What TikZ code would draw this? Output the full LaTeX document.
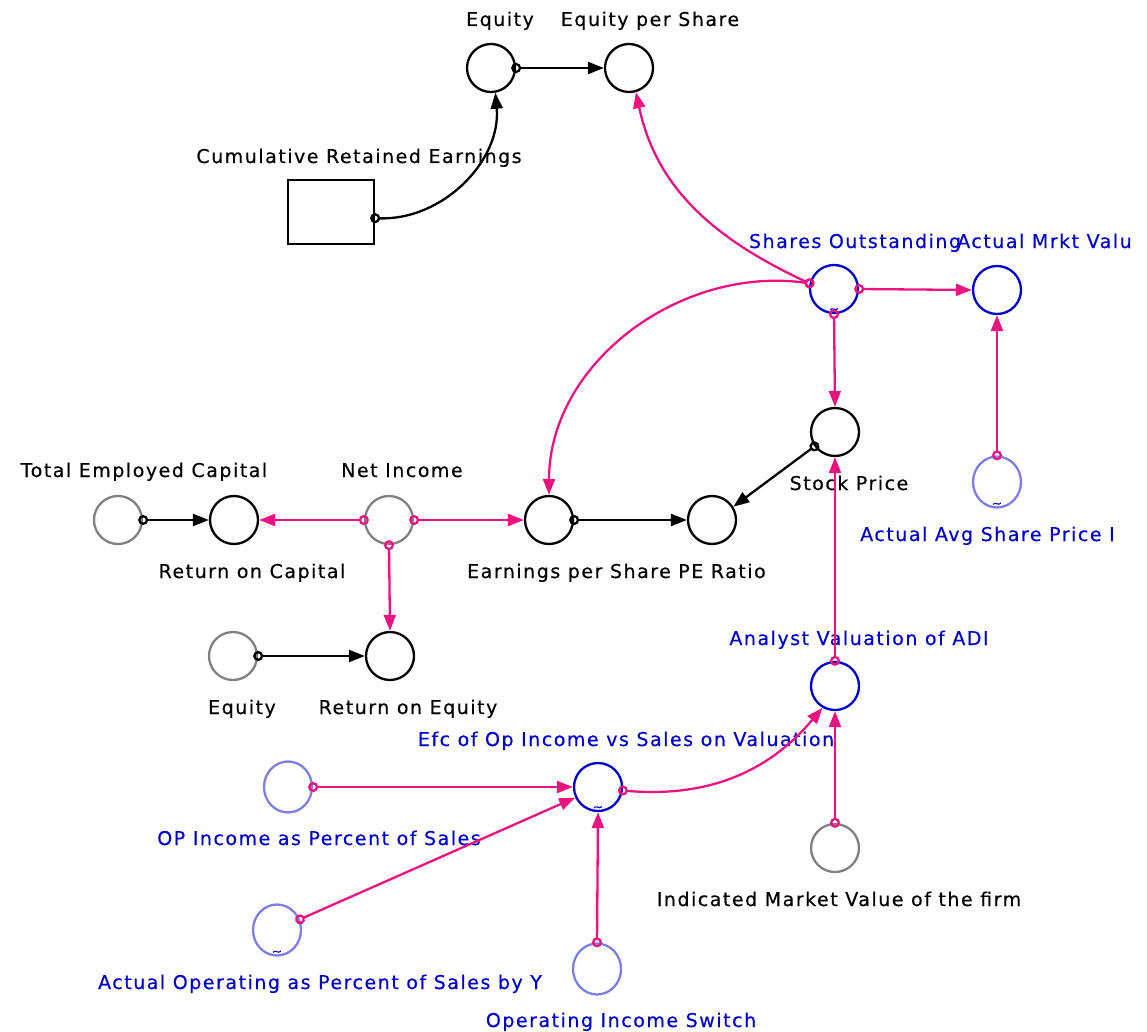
\documentclass[tikz,border=0pt]{standalone}
\usepackage{fontspec}
\setmainfont{DejaVu Sans}[LetterSpace=8, FakeBold=0.4]
\usetikzlibrary{arrows.meta, positioning, shapes.geometric}
\definecolor{linkpink}{RGB}{236,18,128}
\definecolor{varblue}{RGB}{0,0,204}
\definecolor{lightvar}{RGB}{125,125,228}
\definecolor{greyvar}{RGB}{128,128,128}

\begin{document}
\begin{tikzpicture}[x=1pt, y=1pt,
  font=\fontsize{19}{22}\selectfont,
  var/.style={circle, draw, line width=2.3pt, minimum size=48pt, inner sep=0pt},
  gvar/.style={var, draw=greyvar},
  bvar/.style={var, draw=varblue},
  lvar/.style={ellipse, draw=lightvar, line width=2.3pt, minimum width=48pt, minimum height=51pt, inner sep=0pt},
  stock/.style={rectangle, draw, line width=2.3pt, minimum width=86pt, minimum height=64pt},
  lbl/.style={anchor=base, inner sep=0pt},
  blbl/.style={lbl, text=varblue},
  tilde/.style={font=\fontsize{12}{12}\selectfont, text=varblue, inner sep=0pt, anchor=south},
  link/.style={{Circle[open, length=10pt]}-{Triangle[length=16pt, width=12pt]}, line width=2.3pt, shorten <=-5pt},
  plink/.style={link, draw=linkpink}
]
  \useasboundingbox (0,0) rectangle (1147,-1032);

  % stocks and variables
  \node[stock] (cre) at (331,-212) {};
  \node[var] (eqtop) at (491,-68) {};
  \node[var] (eps) at (629,-68) {};
  \node[bvar] (so) at (834,-289) {};
  \node[bvar] (amv) at (997,-290) {};
  \node[var] (sp) at (835,-432) {};
  \node[lvar] (aasp) at (997,-482) {};
  \node[var] (pe) at (712,-520) {};
  \node[var] (epsh) at (549,-520) {};
  \node[gvar] (ni) at (389,-520) {};
  \node[var] (roc) at (234,-520) {};
  \node[gvar] (tec) at (118,-520) {};
  \node[gvar] (eqlow) at (233,-656) {};
  \node[var] (roe) at (390,-656) {};
  \node[bvar] (avadi) at (835,-686) {};
  \node[gvar] (imv) at (835,-848) {};
  \node[bvar] (efc) at (598,-787) {};
  \node[lvar] (opip) at (288,-787) {};
  \node[lvar] (aop) at (277,-930) {};
  \node[lvar] (ois) at (597,-969) {};

  % lookup marks
  \node[tilde, above=1pt of so.south] {\textasciitilde};
  \node[tilde, above=1pt of aasp.south] {\textasciitilde};
  \node[tilde, above=1pt of efc.south] {\textasciitilde};
  \node[tilde, above=1pt of aop.south] {\textasciitilde};

  % names
  \node[lbl] at (500,-26) {Equity};
  \node[lbl] at (650,-26) {Equity per Share};
  \node[lbl] at (359,-163) {Cumulative Retained Earnings};
  \node[blbl] at (855,-248) {Shares Outstanding};
  \node[blbl, anchor=base west] at (957,-248) {Actual Mrkt Valu};
  \node[lbl] at (144,-477) {Total Employed Capital};
  \node[lbl] at (402,-477) {Net Income};
  \node[lbl] at (849,-490) {Stock Price};
  \node[blbl, anchor=base west] at (860,-541) {Actual Avg Share Price I};
  \node[lbl] at (252,-578) {Return on Capital};
  \node[lbl] at (569,-578) {Earnings per Share};
  \node[lbl] at (722,-578) {PE Ratio};
  \node[blbl] at (859,-645) {Analyst Valuation of ADI};
  \node[lbl] at (242,-714) {Equity};
  \node[lbl] at (408,-714) {Return on Equity};
  \node[blbl] at (626,-746) {Efc of Op Income vs Sales on Valuation};
  \node[blbl] at (319,-845) {OP Income as Percent of Sales};
  \node[lbl] at (839,-906) {Indicated Market Value of the firm};
  \node[blbl] at (320,-989) {Actual Operating as Percent of Sales by Y};
  \node[blbl] at (621,-1027) {Operating Income Switch};

  % links
  \draw[link] (cre.-8) to[out=-2, in=-85] (eqtop.-80);
  \draw[link] (eqtop.east) -- (eps.west);
  \draw[plink] (so.167) to[out=155, in=-78] (eps.-74);
  \draw[plink] (so.167) to[out=172, in=90] (epsh.north);
  \draw[plink] (so.east) -- (amv.west);
  \draw[plink] (so.south) -- (sp.north);
  \draw[plink] (aasp.north) -- (amv.south);
  \draw[link] (sp.-145) -- (pe.32);
  \draw[link] (epsh.east) -- (pe.west);
  \draw[plink] (ni.east) -- (epsh.west);
  \draw[plink] (ni.west) -- (roc.east);
  \draw[plink] (ni.south) -- (roe.north);
  \draw[link] (tec.east) -- (roc.west);
  \draw[link] (eqlow.east) -- (roe.west);
  \draw[plink] (avadi.north) -- (sp.south);
  \draw[plink] (imv.north) -- (avadi.south);
  \draw[plink] (efc.-8) to[out=-5, in=-130] (avadi.-120);
  \draw[plink] (opip.east) -- (efc.west);
  \draw[plink] (aop.25) -- (efc.-155);
  \draw[plink] (ois.north) -- (efc.south);
\end{tikzpicture}
\end{document}
